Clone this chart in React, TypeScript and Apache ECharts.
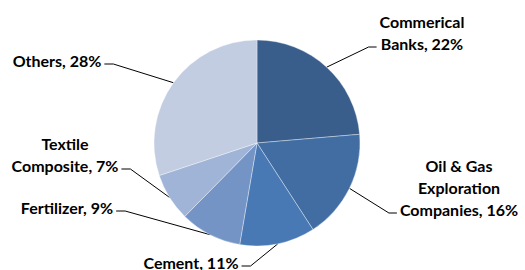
import React, { useEffect, useRef } from 'react';
import * as echarts from 'echarts';

const categories = ['Commerical Banks', 'Oil & Gas Exploration Companies', 'Cement', 'Fertilizer', 'Textile Composite', 'Others'];
const labelTexts = ['Commerical\nBanks', 'Oil & Gas\nExploration\nCompanies', 'Cement', 'Fertilizer', 'Textile\nComposite', 'Others'];
const shares = [22, 16, 11, 9, 7, 28];
const sliceColors = ['#3A5E8C', '#416DA3', '#4879B5', '#7394C5', '#A0B4D7', '#C2CDE2'];

// label centre positions and which side of the label the leader line joins
const labelPlacement = [
  { x: 422, y: 32, side: 'right' },
  { x: 459, y: 187, side: 'right' },
  { x: 191, y: 262, side: 'left' },
  { x: 67, y: 207, side: 'left' },
  { x: 65, y: 154, side: 'left' },
  { x: 57, y: 60, side: 'left' },
];

export default function App() {
  const ref = useRef<HTMLDivElement>(null);
  useEffect(() => {
    document.body.style.margin = '0';
    const chart = echarts.init(ref.current!, null, { renderer: 'svg' });
    chart.setOption({
      animation: false,
      backgroundColor: '#fff',
      series: [
        {
          type: 'pie',
          center: [257, 143],
          radius: [0, 103],
          startAngle: 90,
          clockwise: true,
          avoidLabelOverlap: false,
          itemStyle: { borderColor: 'rgba(255,255,255,0.6)', borderWidth: 0.6 },
          label: {
            show: true,
            position: 'outside',
            fontFamily: 'Lato',
            fontWeight: 'bold',
            fontSize: 16,
            lineHeight: 22,
            color: '#000',
            align: 'center',
            formatter: (p: any) => labelTexts[p.dataIndex] + ', ' + p.value + '%',
          },
          labelLine: { show: true, smooth: false, lineStyle: { color: '#000', width: 1 } },
          labelLayout: (params: any) => {
            const pl = labelPlacement[params.dataIndex];
            const w = params.labelRect.width;
            const h = params.labelRect.height;
            const ly = pl.y + h / 2 - 7;
            let end: number[];
            let bend: number[];
            if (pl.side === 'right') {
              end = [pl.x - w / 2 - 3, ly];
              bend = [end[0] - 8, ly];
            } else {
              end = [pl.x + w / 2 + 3, ly];
              bend = [end[0] + 9, ly];
            }
            const start = params.labelLinePoints ? params.labelLinePoints[0] : bend;
            return {
              x: pl.x,
              y: pl.y,
              align: 'center',
              verticalAlign: 'middle',
              labelLinePoints: [start, bend, end],
            };
          },
          data: categories.map((name, i) => ({
            name,
            value: shares[i],
            itemStyle: { color: sliceColors[i] },
          })),
        },
      ],
    });
    return () => chart.dispose();
  }, []);
  return <div ref={ref} style={{ position: 'fixed', left: 0, top: 0, width: 525, height: 270 }} />;
}
